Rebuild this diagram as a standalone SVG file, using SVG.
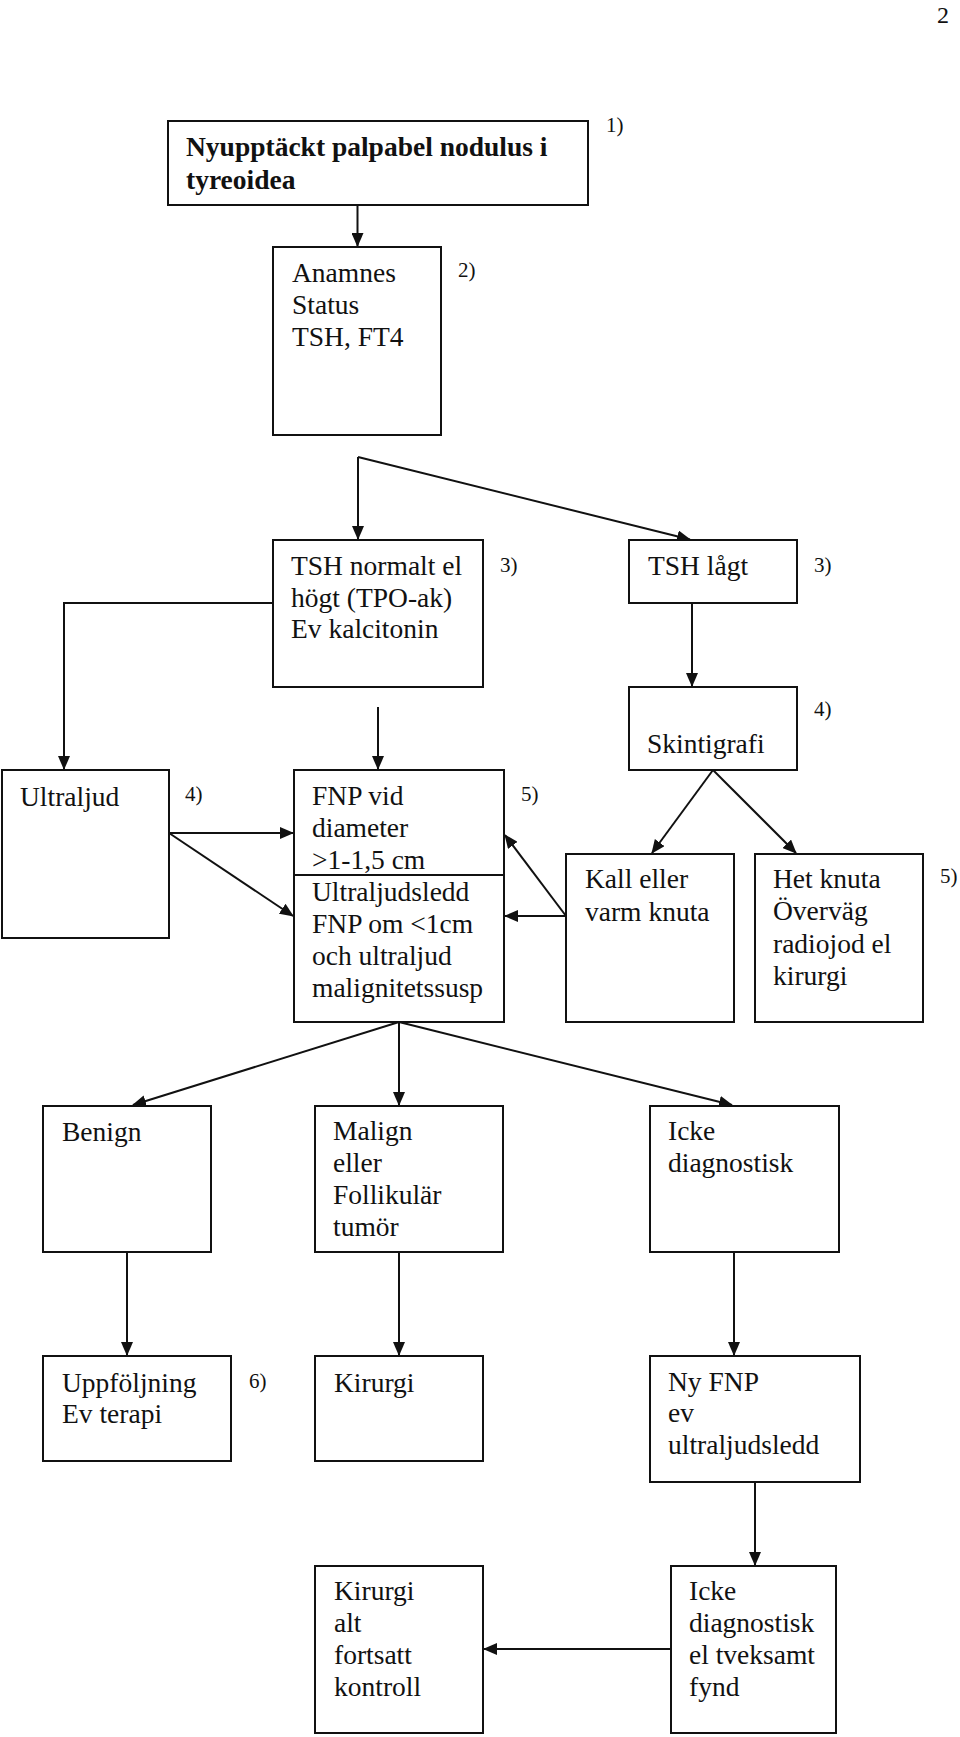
<svg xmlns="http://www.w3.org/2000/svg" width="960" height="1737" viewBox="0 0 960 1737">
<style>
.box{fill:#fff;stroke:#111;stroke-width:2}
.t{font-family:"Liberation Serif","Times New Roman",serif;font-size:27.5px;fill:#111}
.b{font-weight:bold}
.n{font-family:"Liberation Serif","Times New Roman",serif;font-size:21px;fill:#111}
.c{fill:none;stroke:#111;stroke-width:2}
</style>
<defs>
<marker id="ah" markerUnits="userSpaceOnUse" markerWidth="14" markerHeight="12" refX="13" refY="6" orient="auto">
<path d="M0,0 L14,6 L0,12 z" fill="#111"/>
</marker>
</defs>
<rect width="960" height="1737" fill="#fff"/>
<text x="937" y="23" style="font-family:'Liberation Serif',serif;font-size:24px;fill:#111">2</text>

<g id="connectors">
<line class="c" x1="357.5" y1="205" x2="357.5" y2="246" marker-end="url(#ah)"/>
<line class="c" x1="358" y1="457" x2="358" y2="539" marker-end="url(#ah)"/>
<line class="c" x1="358" y1="457" x2="690" y2="539.5" marker-end="url(#ah)"/>
<polyline class="c" points="273,603 64,603 64,769" marker-end="url(#ah)"/>
<line class="c" x1="692" y1="603" x2="692" y2="686" marker-end="url(#ah)"/>
<line class="c" x1="378" y1="707" x2="378" y2="769" marker-end="url(#ah)"/>
<line class="c" x1="169" y1="833" x2="293" y2="833" marker-end="url(#ah)"/>
<line class="c" x1="169" y1="833" x2="293" y2="916" marker-end="url(#ah)"/>
<line class="c" x1="566" y1="916" x2="505" y2="916" marker-end="url(#ah)"/>
<line class="c" x1="566" y1="916" x2="505" y2="835" marker-end="url(#ah)"/>
<line class="c" x1="713" y1="770" x2="652" y2="853" marker-end="url(#ah)"/>
<line class="c" x1="713" y1="770" x2="796" y2="853" marker-end="url(#ah)"/>
<line class="c" x1="399" y1="1022" x2="133" y2="1105" marker-end="url(#ah)"/>
<line class="c" x1="399" y1="1022" x2="399" y2="1105" marker-end="url(#ah)"/>
<line class="c" x1="399" y1="1022" x2="732" y2="1105" marker-end="url(#ah)"/>
<line class="c" x1="127" y1="1252" x2="127" y2="1355" marker-end="url(#ah)"/>
<line class="c" x1="399" y1="1252" x2="399" y2="1355" marker-end="url(#ah)"/>
<line class="c" x1="734" y1="1252" x2="734" y2="1355" marker-end="url(#ah)"/>
<line class="c" x1="755" y1="1482" x2="755" y2="1565" marker-end="url(#ah)"/>
<line class="c" x1="671" y1="1649" x2="484" y2="1649" marker-end="url(#ah)"/>
</g>

<g id="n1">
<rect class="box" x="168" y="121" width="420" height="84"/>
<text class="t b" x="186" y="156">Nyupptäckt palpabel nodulus i</text>
<text class="t b" x="186" y="189">tyreoidea</text>
<text class="n" x="606" y="132">1)</text>
</g>

<g id="n2">
<rect class="box" x="273" y="247" width="168" height="188"/>
<text class="t" x="292" y="282">Anamnes</text>
<text class="t" x="292" y="314">Status</text>
<text class="t" x="292" y="346">TSH, FT4</text>
<text class="n" x="458" y="277">2)</text>
</g>

<g id="n3">
<rect class="box" x="273" y="540" width="210" height="147"/>
<text class="t" x="291" y="575">TSH normalt el</text>
<text class="t" x="291" y="607">högt (TPO-ak)</text>
<text class="t" x="291" y="638">Ev kalcitonin</text>
<text class="n" x="500" y="572">3)</text>
</g>

<g id="n4">
<rect class="box" x="629" y="540" width="168" height="63"/>
<text class="t" x="648" y="575">TSH lågt</text>
<text class="n" x="814" y="572">3)</text>
</g>

<g id="n5">
<rect class="box" x="629" y="687" width="168" height="83"/>
<text class="t" x="647" y="753">Skintigrafi</text>
<text class="n" x="814" y="716">4)</text>
</g>

<g id="n6">
<rect class="box" x="2" y="770" width="167" height="168"/>
<text class="t" x="20" y="806">Ultraljud</text>
<text class="n" x="185" y="801">4)</text>
</g>

<g id="n7">
<rect class="box" x="294" y="770" width="210" height="252"/>
<line class="c" x1="294" y1="875" x2="504" y2="875"/>
<text class="t" x="312" y="805">FNP vid</text>
<text class="t" x="312" y="837">diameter</text>
<text class="t" x="312" y="869">&gt;1-1,5 cm</text>
<text class="t" x="312" y="901">Ultraljudsledd</text>
<text class="t" x="312" y="933">FNP om &lt;1cm</text>
<text class="t" x="312" y="965">och ultraljud</text>
<text class="t" x="312" y="997">malignitetssusp</text>
<text class="n" x="521" y="801">5)</text>
</g>

<g id="n8">
<rect class="box" x="566" y="854" width="168" height="168"/>
<text class="t" x="585" y="888">Kall eller</text>
<text class="t" x="585" y="921">varm knuta</text>
</g>

<g id="n9">
<rect class="box" x="755" y="854" width="168" height="168"/>
<text class="t" x="773" y="888">Het knuta</text>
<text class="t" x="773" y="920">Överväg</text>
<text class="t" x="773" y="953">radiojod el</text>
<text class="t" x="773" y="985">kirurgi</text>
<text class="n" x="940" y="883">5)</text>
</g>

<g id="n10">
<rect class="box" x="43" y="1106" width="168" height="146"/>
<text class="t" x="62" y="1141">Benign</text>
</g>

<g id="n11">
<rect class="box" x="315" y="1106" width="188" height="146"/>
<text class="t" x="333" y="1140">Malign</text>
<text class="t" x="333" y="1172">eller</text>
<text class="t" x="333" y="1204">Follikulär</text>
<text class="t" x="333" y="1236">tumör</text>
</g>

<g id="n12">
<rect class="box" x="650" y="1106" width="189" height="146"/>
<text class="t" x="668" y="1140">Icke</text>
<text class="t" x="668" y="1172">diagnostisk</text>
</g>

<g id="n13">
<rect class="box" x="43" y="1356" width="188" height="105"/>
<text class="t" x="62" y="1392">Uppföljning</text>
<text class="t" x="62" y="1423">Ev terapi</text>
<text class="n" x="249" y="1388">6)</text>
</g>

<g id="n14">
<rect class="box" x="315" y="1356" width="168" height="105"/>
<text class="t" x="334" y="1392">Kirurgi</text>
</g>

<g id="n15">
<rect class="box" x="650" y="1356" width="210" height="126"/>
<text class="t" x="668" y="1391">Ny FNP</text>
<text class="t" x="668" y="1422">ev</text>
<text class="t" x="668" y="1454">ultraljudsledd</text>
</g>

<g id="n16">
<rect class="box" x="315" y="1566" width="168" height="167"/>
<text class="t" x="334" y="1600">Kirurgi</text>
<text class="t" x="334" y="1632">alt</text>
<text class="t" x="334" y="1664">fortsatt</text>
<text class="t" x="334" y="1696">kontroll</text>
</g>

<g id="n17">
<rect class="box" x="671" y="1566" width="165" height="167"/>
<text class="t" x="689" y="1600">Icke</text>
<text class="t" x="689" y="1632">diagnostisk</text>
<text class="t" x="689" y="1664">el tveksamt</text>
<text class="t" x="689" y="1696">fynd</text>
</g>
</svg>
